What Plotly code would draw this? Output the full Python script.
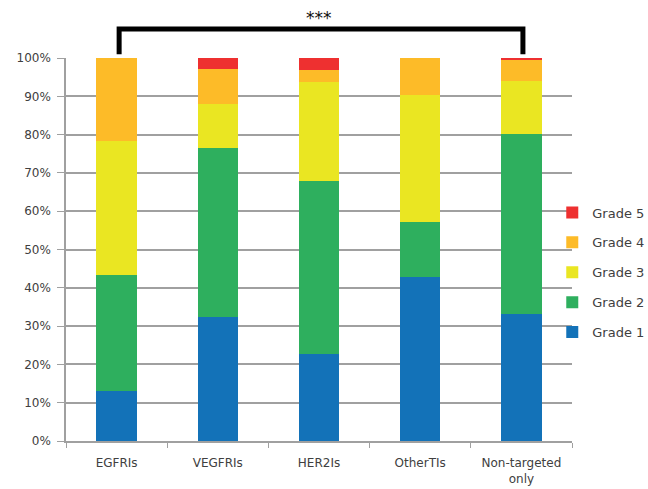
import plotly.graph_objects as go

categories = ["EGFRIs", "VEGFRIs", "HER2Is", "OtherTIs", "Non-targeted<br>only"]
grade1 = [13.0, 32.5, 22.6, 42.8, 33.2]
grade2 = [30.3, 44.1, 45.2, 14.5, 47.0]
grade3 = [35.0, 11.5, 26.0, 33.0, 13.9]
grade4 = [21.7, 8.9, 3.0, 9.7, 5.4]
grade5 = [0.0, 3.0, 3.2, 0.0, 0.5]
series_names = ["Grade 1", "Grade 2", "Grade 3", "Grade 4", "Grade 5"]
colors = ["#1372B8", "#2EAF5E", "#EAE622", "#FDBB28", "#EE3030"]
ytick_vals = [0, 10, 20, 30, 40, 50, 60, 70, 80, 90, 100]
ytick_text = ["0%", "10%", "20%", "30%", "40%", "50%", "60%", "70%", "80%", "90%", "100%"]

fig = go.Figure()
for i, (name, vals, col) in enumerate(zip(series_names, [grade1, grade2, grade3, grade4, grade5], colors)):
    fig.add_trace(go.Bar(
        x=categories, y=vals, name=name, legendgroup=name,
        legendrank=len(series_names) - i,
        marker=dict(color=col, line=dict(width=0)), width=0.4,
    ))

font_family = "DejaVu Sans"
fig.update_layout(
    width=648, height=489,
    barmode="stack",
    paper_bgcolor="white", plot_bgcolor="white",
    margin=dict(l=66, r=76, t=58, b=48, autoexpand=False),
    font=dict(family=font_family, size=12, color="#404040"),
    legend=dict(
        x=0.961, xanchor="left", y=0.44, yanchor="middle",
        traceorder="grouped", tracegroupgap=10,
        bgcolor="rgba(0,0,0,0)",
        font=dict(family=font_family, size=13, color="#404040"),
        itemwidth=30,
    ),
    xaxis=dict(
        showline=True, linecolor="#A0A0A0", linewidth=1.5,
        ticks="outside", tickson="boundaries", ticklen=5, tickcolor="#A0A0A0",
        tickfont=dict(family=font_family, size=12, color="#404040"),
        ticklabelstandoff=10,
        showgrid=False,
    ),
    yaxis=dict(
        range=[0, 100], tickvals=ytick_vals, ticktext=ytick_text,
        showline=True, linecolor="#A0A0A0", linewidth=1.5,
        ticks="outside", ticklen=7, tickcolor="#A0A0A0",
        showgrid=True, gridcolor="#A0A0A0", gridwidth=1.5,
        tickfont=dict(family=font_family, size=12, color="#404040"),
        ticklabelstandoff=4,
        zeroline=False,
    ),
)

# significance bracket
bx0, bx1, by0, by1 = 0.105, 0.903, 1.01, 1.076
fig.add_shape(type="path", xref="x domain", yref="y domain",
              path=f"M {bx0},{by0} L {bx0},{by1} L {bx1},{by1} L {bx1},{by0}",
              line=dict(color="black", width=5))
fig.add_annotation(xref="x domain", yref="y domain", x=0.5, y=1.104,
                   text="***", showarrow=False, yanchor="middle",
                   font=dict(family=font_family, size=17, color="#111111"))

fig.write_html("out.html", config={"displayModeBar": False},
               post_script="document.body.style.margin='0px';")
